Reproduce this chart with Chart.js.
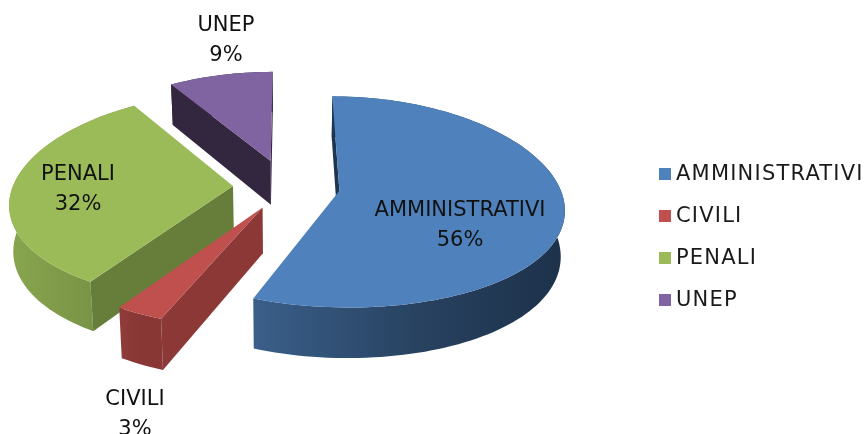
<!DOCTYPE html>
<html>
<head>
<meta charset="utf-8">
<title>Torta 3D</title>
<script src="https://cdn.jsdelivr.net/npm/chart.js@4"></script>
<style>
    html, body { margin: 0; padding: 0; background: #fff; }
    #wrap { position: relative; width: 865px; height: 434px; overflow: hidden; filter: blur(0.4px); }
    #legend { position: absolute; left: 659px; top: 160px; margin: 0; padding: 0; list-style: none;
        font: 21px "DejaVu Sans", sans-serif; letter-spacing: 1.2px; color: #1a1a1a; }
    #legend li { position: relative; height: 42px; line-height: 27px; padding-left: 17px; white-space: nowrap; }
    #legend i { position: absolute; left: 0; top: 8px; width: 12px; height: 12px; }
</style>
</head>
<body>
<div id="wrap">
    <canvas id="pieChart" width="865" height="434"></canvas>
    <ul id="legend"></ul>
</div>
<script>
// Dati
const categories = ['AMMINISTRATIVI', 'CIVILI', 'PENALI', 'UNEP'];
const percentages = [56, 3, 32, 9];

// Colori: faccia superiore, pareti radiali, parete esterna (sinistra -> destra)
const topColors = ['#4f81bd', '#c0504d', '#9bbb59', '#8064a2'];
const sideColors = ['#1e3552', '#8b3836', '#677e3b', '#33273f'];
const rimColors = [['#3a5f8a', '#27415f', '#1d314a'], ['#8f3c3a', '#883735', '#883735'],
    ['#88a54e', '#7c9747', '#728c41'], ['#33273f', '#33273f', '#33273f']];

// Distanza di esplosione di ogni fetta e posizione delle etichette
const explode = [54, 50, 53, 57];
const labelSpots = [[460, 209], [135, 398], [78, 173], [226, 24]];

// Proiezione prospettica della torta
const view = { cx: 286, cy: 186, radius: 220, tilt: 0.47, perspX: 0.15, perspY: 0.105, depth: 45, shrink: 0.985 };

function project(wx, wy, down) {
    const sx = 1 / (1 - view.perspX * wy / view.radius) * (down ? view.shrink : 1);
    const sy = 1 / (1 - view.perspY * wy / view.radius);
    return {
        x: view.cx + wx * sx,
        y: view.cy + (view.tilt * wy + (down ? view.depth : 0)) * sy
    };
}

function fillPath(ctx, pts, style) {
    ctx.beginPath();
    pts.forEach((p, i) => i ? ctx.lineTo(p.x, p.y) : ctx.moveTo(p.x, p.y));
    ctx.closePath();
    ctx.fillStyle = style;
    ctx.fill();
}

function drawSlice(ctx, arc, i) {
    const mid = (arc.startAngle + arc.endAngle) / 2;
    const ax = Math.cos(mid) * arc.options.offset;
    const ay = Math.sin(mid) * arc.options.offset;
    const rim = [];
    const steps = Math.ceil((arc.endAngle - arc.startAngle) / 0.03);
    for (let k = 0; k <= steps; k++) {
        const a = arc.startAngle + (arc.endAngle - arc.startAngle) * k / steps;
        rim.push([ax + Math.cos(a) * view.radius, ay + Math.sin(a) * view.radius]);
    }
    const topRim = rim.map(p => project(p[0], p[1], false));
    const lowRim = rim.map(p => project(p[0], p[1], true));
    const apex = project(ax, ay, false);
    const apexLow = project(ax, ay, true);

    // parete esterna con sfumatura orizzontale
    const xs = topRim.map(p => p.x);
    const grad = ctx.createLinearGradient(Math.min(...xs), 0, Math.max(...xs), 0);
    grad.addColorStop(0, rimColors[i][0]);
    grad.addColorStop(0.55, rimColors[i][1]);
    grad.addColorStop(1, rimColors[i][2]);
    fillPath(ctx, topRim.concat(lowRim.slice().reverse()), grad);

    // pareti radiali: solo quelle rivolte verso chi guarda
    const m = topRim[Math.floor(steps / 2)];
    [[topRim[0], lowRim[0]], [topRim[steps], lowRim[steps]]].forEach(edge => {
        const ex = edge[0].x - apex.x;
        const ey = edge[0].y - apex.y;
        const sideM = ex * (m.y - apex.y) - ey * (m.x - apex.x);
        if (sideM * ex < 0) {
            fillPath(ctx, [apex, edge[0], edge[1], apexLow], sideColors[i]);
        }
    });

    fillPath(ctx, [apex].concat(topRim), topColors[i]);
}

const pie3d = {
    id: 'pie3d',
    beforeDatasetsDraw(chart) {
        const ctx = chart.ctx;
        const arcs = chart.getDatasetMeta(0).data;
        ctx.save();
        // dalla fetta piu' lontana alla piu' vicina
        [3, 0, 2, 1].forEach(i => drawSlice(ctx, arcs[i], i));
        ctx.font = '21px "DejaVu Sans", sans-serif';
        ctx.fillStyle = '#111';
        ctx.textAlign = 'center';
        ctx.textBaseline = 'middle';
        categories.forEach((name, i) => {
            ctx.fillText(name, labelSpots[i][0], labelSpots[i][1] + 2);
            ctx.fillText(percentages[i] + '%', labelSpots[i][0], labelSpots[i][1] + 31.5);
        });
        ctx.restore();
        return false;
    }
};

new Chart(document.getElementById('pieChart'), {
    type: 'pie',
    data: {
        labels: categories,
        datasets: [{
            data: percentages,
            backgroundColor: topColors,
            offset: explode,
            borderWidth: 0
        }]
    },
    options: {
        responsive: false,
        animation: false,
        plugins: {
            legend: { display: false },
            tooltip: { enabled: false }
        }
    },
    plugins: [pie3d]
});

// Legenda HTML
document.getElementById('legend').innerHTML = categories.map((name, i) =>
    '<li><i style="background:' + topColors[i] + '"></i>' + name + '</li>').join('');
</script>
</body>
</html>
